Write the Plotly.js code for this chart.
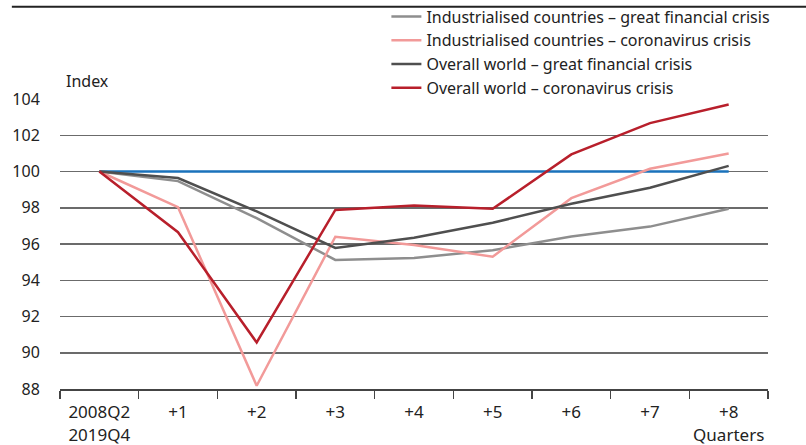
<!DOCTYPE html>
<html>
<head>
<meta charset="utf-8">
<script src="https://cdn.plot.ly/plotly-3.0.1.min.js"></script>
<style>html,body{margin:0;padding:0;background:#fff;}#chart{width:806px;height:445px;}</style>
</head>
<body>
<div id="chart"></div>
<script>
const categories = ["2008Q2<br>2019Q4", "+1", "+2", "+3", "+4", "+5", "+6", "+7", "+8"];
const tickLabels = ["2008Q2<br>2019Q4", "+1", "+2", "+3", "+4", "+5", "+6", "+7", "+8<br>Quarters"];
const industrialisedGFC = [100, 99.47, 97.43, 95.12, 95.23, 95.66, 96.41, 96.96, 97.94];
const industrialisedCorona = [100, 98.03, 88.18, 96.4, 95.95, 95.3, 98.53, 100.15, 100.99];
const worldGFC = [100, 99.64, 97.8, 95.78, 96.34, 97.17, 98.22, 99.1, 100.31];
const worldCorona = [100, 96.65, 90.57, 97.88, 98.12, 97.94, 100.94, 102.67, 103.7];
const baseline = [100, 100, 100, 100, 100, 100, 100, 100, 100];
const yTicks = [88, 90, 92, 94, 96, 98, 100, 102, 104];

const FONT = "Noto Sans, sans-serif";
const traces = [
  {x: categories, y: baseline, mode: "lines", line: {color: "#1a72bb", width: 2.5}, showlegend: false, hoverinfo: "skip"},
  {x: categories, y: industrialisedGFC, mode: "lines", name: "Industrialised countries – great financial crisis", line: {color: "#8e8e8e", width: 2.5}},
  {x: categories, y: industrialisedCorona, mode: "lines", name: "Industrialised countries – coronavirus crisis", line: {color: "#f29a99", width: 2.5}},
  {x: categories, y: worldGFC, mode: "lines", name: "Overall world – great financial crisis", line: {color: "#4f4f4f", width: 2.5}},
  {x: categories, y: worldCorona, mode: "lines", name: "Overall world – coronavirus crisis", line: {color: "#b81f2b", width: 2.5}}
];

const layout = {
  width: 806, height: 445,
  margin: {l: 60, r: 38, t: 99, b: 56, autoexpand: false},
  paper_bgcolor: "#fff", plot_bgcolor: "#fff",
  font: {family: FONT, size: 16, color: "#222"},
  showlegend: true,
  legend: {x: 0.461, y: 1.343, xanchor: "left", yanchor: "top", bgcolor: "rgba(0,0,0,0)",
           font: {family: FONT, size: 16, color: "#222"}, tracegroupgap: 0, traceorder: "normal"},
  xaxis: {type: "category", range: [-0.5, 8.5], tickson: "boundaries", ticks: "outside", ticklen: 8,
          tickcolor: "#444", tickwidth: 1.5, showline: true, linecolor: "#444", linewidth: 2,
          tickvals: categories, ticktext: tickLabels, tickangle: 0,
          ticklabelstandoff: 7, automargin: false,
          showgrid: false, zeroline: false, tickfont: {family: FONT, size: 17, color: "#222"}, fixedrange: true},
  yaxis: {range: [88, 104], tickvals: yTicks, ticktext: yTicks.map(String), showgrid: true, automargin: false,
          gridcolor: "#6b6b6b", gridwidth: 1.5, zeroline: false, showline: false, ticks: "outside",
          ticklen: 16, tickcolor: "rgba(0,0,0,0)", tickfont: {family: FONT, size: 16, color: "#222"}, fixedrange: true},
  annotations: [
    {text: "Index", xref: "paper", yref: "paper", x: 0.006, y: 1.0, xanchor: "left", yanchor: "bottom", yshift: 5,
     showarrow: false, font: {family: FONT, size: 16, color: "#222"}}
  ],
  shapes: [
    {type: "line", xref: "paper", yref: "paper", x0: -0.068, x1: 1.06, y0: 1.318, y1: 1.318, line: {color: "#222", width: 2}}
  ]
};

Plotly.newPlot("chart", traces, layout, {displayModeBar: false, staticPlot: true});
</script>
</body>
</html>
